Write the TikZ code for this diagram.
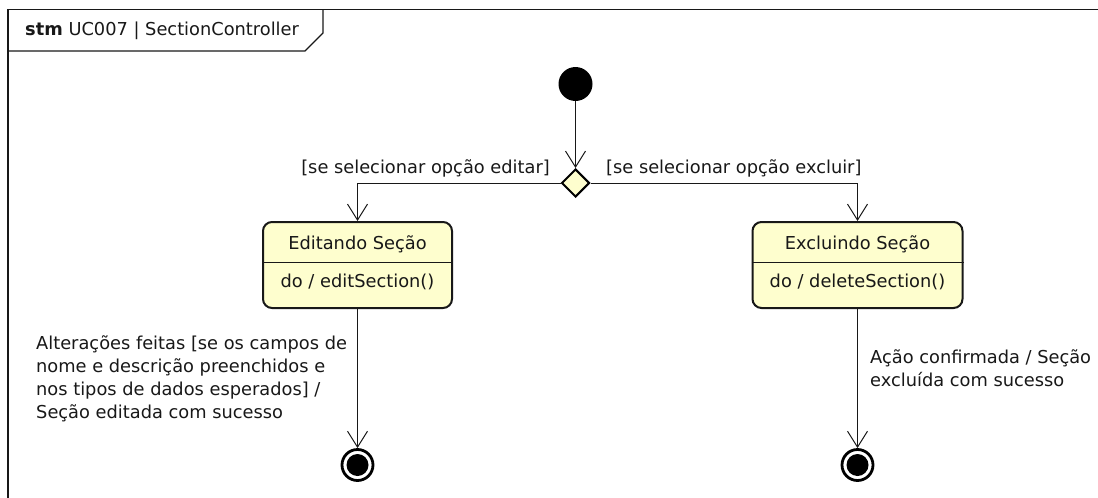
\documentclass[tikz,border=0pt]{standalone}
\usepackage{fontspec}
\setmainfont{DejaVu Sans}
\usetikzlibrary{arrows.meta,shapes.geometric,calc}
\definecolor{ln}{HTML}{181818}
\definecolor{stfill}{HTML}{FEFECE}
\tikzset{
  txt/.style={font=\fontsize{17.8}{23}\selectfont, inner sep=0pt, text=ln},
  statebox/.style={draw=ln, line width=2pt, fill=stfill, rounded corners=9pt, minimum height=86pt, inner sep=0pt},
  arr/.style={draw=ln, line width=1pt, -{Straight Barb[length=16pt,width=20pt,line width=1pt]}},
  initnode/.style={circle, fill=black, minimum size=34pt, inner sep=0pt},
  decision/.style={diamond, draw=black, line width=2pt, fill=stfill, minimum width=28pt, minimum height=28pt, inner sep=0pt},
  finalnode/.style={circle, draw=black, line width=2.8pt, minimum size=31pt, inner sep=0pt,
    path picture={\fill[black] (path picture bounding box.center) circle (11pt);}},
}
\begin{document}
\begin{tikzpicture}[x=1pt,y=-1pt]
\useasboundingbox (0,0) rectangle (1098,498);
% frame
\draw[ln, line width=1.3pt] (8,500) -- (8,9.5) -- (1100,9.5);
\draw[ln, line width=1.3pt] (8,51) -- (305,51) -- (323,33) -- (323,9.5);
\node[txt, anchor=west] (title) at (25,31) {\textbf{stm} UC007 | SectionController};
% nodes
\node[initnode] (init) at (575.5,84) {};
\node[decision] (dec) at (575.5,183) {};
\node[statebox, minimum width=189pt] (edit) at (357.5,265) {};
\node[statebox, minimum width=210pt] (del) at (857.5,265) {};
\draw[ln, line width=1pt] ($(edit.west)+(0,-3)$) -- ($(edit.east)+(0,-3)$);
\draw[ln, line width=1pt] ($(del.west)+(0,-3)$) -- ($(del.east)+(0,-3)$);
\node[txt] (editname) at (357.5,244) {Editando Seção};
\node[txt] (editdo) at (357.5,282) {do / editSection()};
\node[txt] (delname) at (857.5,244) {Excluindo Seção};
\node[txt] (deldo) at (857.5,282) {do / deleteSection()};
\node[finalnode] (fin1) at (357.5,465) {};
\node[finalnode] (fin2) at (857.5,465) {};
% connectors
\draw[arr] (init) -- (dec.north);
\draw[arr] (dec.west) -| (edit.north);
\draw[arr] (dec.east) -| (del.north);
\draw[arr] (edit.south) -- (fin1.north);
\draw[arr] (del.south) -- (fin2.north);
% labels
\node[txt, anchor=east] (g1) at (550,168) {[se selecionar opção editar]};
\node[txt, anchor=west] (g2) at (606,168) {[se selecionar opção excluir]};
\node[txt, anchor=north west, align=left] (l1) at (36,335) {Alterações feitas [se os campos de\\nome e descrição preenchidos e\\nos tipos de dados esperados] /\\Seção editada com sucesso};
\node[txt, anchor=north west, align=left] (l2) at (870,349) {Ação confirmada / Seção\\excluída com sucesso};
\end{tikzpicture}
\end{document}
